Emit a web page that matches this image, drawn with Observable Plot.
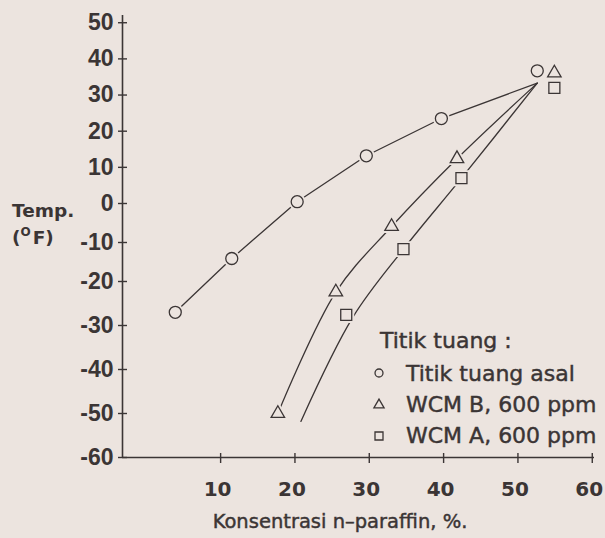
<!DOCTYPE html>
<html>
<head>
<meta charset="utf-8">
<script src="https://cdn.jsdelivr.net/npm/d3@7"></script>
<script src="https://cdn.jsdelivr.net/npm/@observablehq/plot@0.6"></script>
<style>
  html, body { margin: 0; padding: 0; background: #ece4df; }
  #chart { width: 605px; height: 538px; }
</style>
</head>
<body>
<div id="chart"></div>
<script>
// ---- data ----
const xTicks = [10, 20, 30, 40, 50, 60];
const yTicks = [50, 40, 30, 20, 10, 0, -10, -20, -30, -40, -50, -60];
const xDomain = [-3.2, 60.3];
const yDomain = [-60, -20, 0, 52];

const seriesNames = ["Titik tuang asal", "WCM B, 600 ppm", "WCM A, 600 ppm"];
const legendTitle = "Titik tuang :";
const xLabel = "Konsentrasi n\u2013paraffin, %.";
const yLabelTop = "Temp.";

// markers (Titik tuang asal = circles, WCM B = triangles, WCM A = squares)
const asalX = [3.9, 11.5, 20.3, 29.6, 39.7, 52.6];
const asalY = [-27, -14.1, 0.5, 13.2, 23.5, 36.7];
const wcmBX = [17.7, 25.5, 33.0, 41.8, 54.9];
const wcmBY = [-50, -22.4, -5.9, 12.4, 36.1];
const wcmAX = [26.9, 34.6, 42.4, 54.9];
const wcmAY = [-27.6, -11.7, 7.0, 32.0];

// curves as drawn (they meet at a common end point)
const asalLineX = [3.9, 11.5, 20.3, 29.6, 39.7, 52.6];
const asalLineY = [-27, -14.1, 0.5, 13.2, 23.5, 33.3];
const wcmBLineX = [17.7, 25.5, 33.0, 41.8, 52.6];
const wcmBLineY = [-50, -22.4, -5.9, 12.4, 33.3];
const wcmALineX = [20.8, 27.8, 34.6, 42.4, 52.6];
const wcmALineY = [-51.8, -28.1, -11.7, 7.0, 33.3];

// ---- styling ----
const ink = "#3b3535";
const bg = "#ece4df";
const FONT = "'DejaVu Sans', 'Liberation Sans', Arial, sans-serif";
const FONT_Y = "'Liberation Sans', Arial, Helvetica, sans-serif";

const rows = (xs, ys) => xs.map((x, i) => ({x, y: ys[i]}));
const plain = d => `${d}`;

function markerPair(data, symbol, r) {
  return [
    Plot.dot(data, {x: "x", y: "y", symbol, r, fill: bg, stroke: bg, strokeWidth: 5}),
    Plot.dot(data, {x: "x", y: "y", symbol, r, fill: bg, stroke: ink, strokeWidth: 1.3})
  ];
}

const plot = Plot.plot({
  width: 605,
  height: 538,
  marginLeft: 122,
  marginRight: 11,
  marginTop: 15,
  marginBottom: 81,
  style: {background: bg, color: ink, fontFamily: FONT},
  x: {type: "linear", domain: xDomain},
  y: {type: "linear", domain: yDomain, range: [457, 281, 203, 15]},
  marks: [
    Plot.ruleY([yDomain[0]], {stroke: ink, strokeWidth: 1.6}),
    Plot.ruleX([xDomain[0]], {stroke: ink, strokeWidth: 1.6}),
    // crossing tick marks
    Plot.axisX(xTicks, {tickSize: 10, dy: -4, tickFormat: () => "", stroke: ink, strokeWidth: 1.4, label: null}),
    Plot.axisY(yTicks, {tickSize: 9, dx: 5, tickFormat: () => "", stroke: ink, strokeWidth: 1.4, label: null}),
    // tick labels
    Plot.axisX(xTicks, {tickSize: 0, tickPadding: 24, dx: -3, tickFormat: plain, fontSize: 20, fontWeight: "bold", fill: ink, label: null}),
    Plot.axisY(yTicks, {tickSize: 0, tickPadding: 9, tickFormat: plain, fontFamily: FONT_Y, fontSize: 23, fontWeight: "bold", fill: ink, label: null}),
    // curves
    Plot.line(rows(asalLineX, asalLineY), {x: "x", y: "y", stroke: ink, strokeWidth: 1.3}),
    Plot.line(rows(wcmBLineX, wcmBLineY), {x: "x", y: "y", curve: "catmull-rom", stroke: ink, strokeWidth: 1.3}),
    Plot.line(rows(wcmALineX, wcmALineY), {x: "x", y: "y", curve: "catmull-rom", stroke: ink, strokeWidth: 1.3}),
    // markers
    ...markerPair(rows(asalX, asalY), "circle", 6),
    ...markerPair(rows(wcmBX, wcmBY), "triangle", 5),
    ...markerPair(rows(wcmAX, wcmAY), "square", 6.2)
  ]
});

document.getElementById("chart").appendChild(plot);

// ---- labels and legend (real SVG text) ----
const svg = d3.select(plot);

// x-axis title
svg.append("text")
  .attr("x", 340).attr("y", 528)
  .attr("text-anchor", "middle")
  .attr("font-family", FONT).attr("font-size", 19.5)
  .attr("fill", ink).attr("stroke", ink).attr("stroke-width", 0.45)
  .text(xLabel);

// y-axis title
const yt = svg.append("g").attr("font-family", FONT).attr("font-weight", "bold")
  .attr("fill", ink).attr("text-anchor", "start");
yt.append("text").attr("x", 12).attr("y", 217).attr("font-size", 18.5).text(yLabelTop);
const unit = yt.append("text").attr("x", 12).attr("y", 244).attr("font-size", 18.5);
unit.append("tspan").text("(");
unit.append("tspan").attr("font-size", 12).attr("dy", -8).text("O");
unit.append("tspan").attr("dy", 8).attr("dx", 2).text("F)");

// legend
const lg = svg.append("g").attr("font-family", FONT).attr("font-size", 22)
  .attr("fill", ink).attr("stroke", ink).attr("stroke-width", 0.45)
  .attr("text-anchor", "start");
lg.append("text").attr("x", 380).attr("y", 348).text(legendTitle);
const legSymbols = [d3.symbolCircle, d3.symbolTriangle, d3.symbolSquare];
const legSizes = [50, 45, 64];
const legCenters = [373, 405, 436];
const legBaselines = [381, 412, 443];
seriesNames.forEach((name, i) => {
  lg.append("path")
    .attr("d", d3.symbol(legSymbols[i], legSizes[i])())
    .attr("transform", `translate(379,${legCenters[i]})`)
    .attr("fill", "none").attr("stroke", ink).attr("stroke-width", 1.3);
  lg.append("text").attr("x", 406).attr("y", legBaselines[i]).text(name);
});
</script>
</body>
</html>
